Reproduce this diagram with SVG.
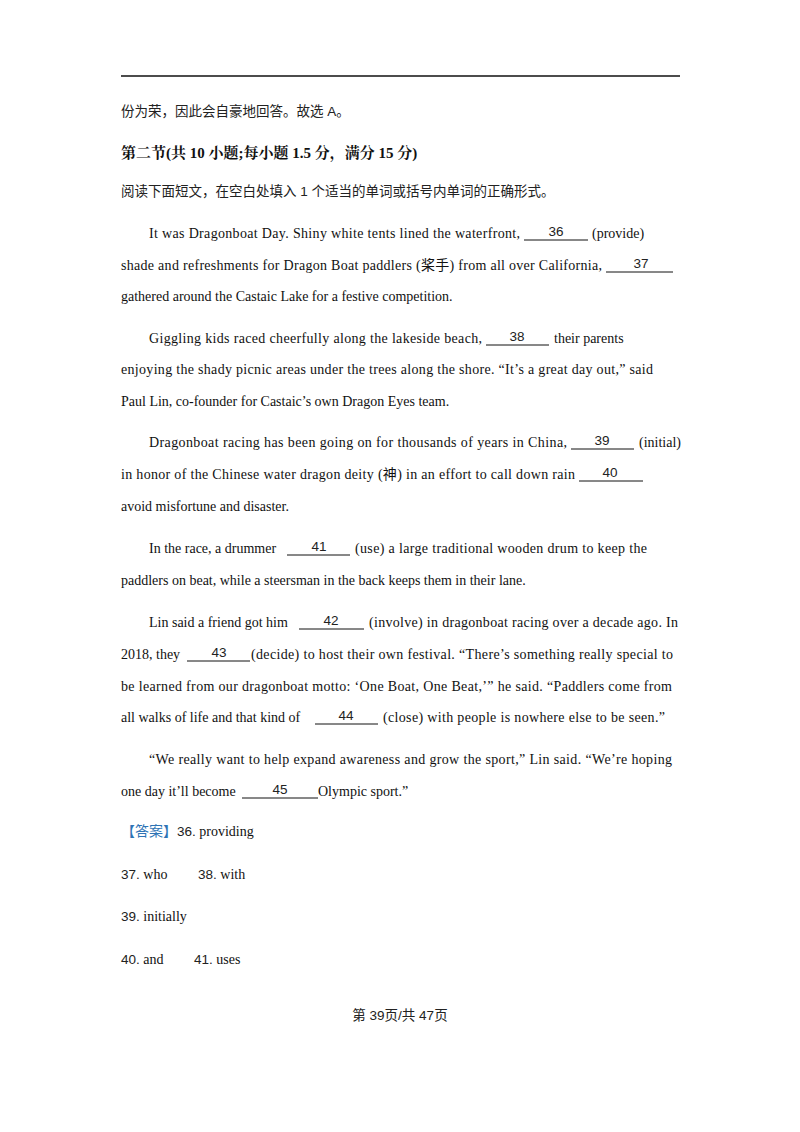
<svg xmlns="http://www.w3.org/2000/svg" width="800" height="1132" viewBox="0 0 800 1132">
<style>
.s{font-family:"Liberation Serif",serif;font-size:14px;fill:#111}
.n{font-family:"Liberation Sans",sans-serif;font-size:13.5px;fill:#222}
.c{font-family:"Liberation Sans","Noto Sans CJK SC",sans-serif;font-size:13.5px;fill:#222}
.b{font-family:"Liberation Serif","Noto Serif CJK SC","Noto Sans CJK SC",serif;font-size:15px;font-weight:bold;fill:#111}
.u{stroke:#111;stroke-width:1}
</style>
<rect width="800" height="1132" fill="#fff"/>
<line x1="121" y1="76" x2="680" y2="76" stroke="#111" stroke-width="1.5"/>
<text class="c" x="121" y="116">份为荣，因此会自豪地回答。故选 A。</text>
<text class="b" x="121" y="158">第二节(共 10 小题;每小题 1.5 分，满分 15 分)</text>
<text class="c" x="121" y="196">阅读下面短文，在空白处填入 1 个适当的单词或括号内单词的正确形式。</text>
<g class="s">
<text x="149" y="238" textLength="371" lengthAdjust="spacing">It was Dragonboat Day. Shiny white tents lined the waterfront,</text>
<text x="592" y="238">(provide)</text>
<text x="121" y="270" textLength="481" lengthAdjust="spacing">shade and refreshments for Dragon Boat paddlers (<tspan font-family="Noto Sans CJK SC">桨手</tspan>) from all over California,</text>
<text x="121" y="301">gathered around the Castaic Lake for a festive competition.</text>
<text x="149" y="343" textLength="333" lengthAdjust="spacing">Giggling kids raced cheerfully along the lakeside beach,</text>
<text x="554" y="343">their parents</text>
<text x="121" y="374" textLength="532" lengthAdjust="spacing">enjoying the shady picnic areas under the trees along the shore. “It’s a great day out,” said</text>
<text x="121" y="406">Paul Lin, co-founder for Castaic’s own Dragon Eyes team.</text>
<text x="149" y="447" textLength="418" lengthAdjust="spacing">Dragonboat racing has been going on for thousands of years in China,</text>
<text x="639" y="447">(initial)</text>
<text x="121" y="479" textLength="454" lengthAdjust="spacing">in honor of the Chinese water dragon deity (<tspan font-family="Noto Sans CJK SC">神</tspan>) in an effort to call down rain</text>
<text x="121" y="511">avoid misfortune and disaster.</text>
<text x="149" y="553">In the race, a drummer</text>
<text x="355" y="553" textLength="292" lengthAdjust="spacing">(use) a large traditional wooden drum to keep the</text>
<text x="121" y="585">paddlers on beat, while a steersman in the back keeps them in their lane.</text>
<text x="149" y="627">Lin said a friend got him</text>
<text x="369" y="627" textLength="309" lengthAdjust="spacing">(involve) in dragonboat racing over a decade ago. In</text>
<text x="121" y="659">2018, they</text>
<text x="251" y="659" textLength="422" lengthAdjust="spacing">(decide) to host their own festival. “There’s something really special to</text>
<text x="121" y="691" textLength="551" lengthAdjust="spacing">be learned from our dragonboat motto: ‘One Boat, One Beat,’” he said. “Paddlers come from</text>
<text x="121" y="722">all walks of life and that kind of</text>
<text x="383" y="722" textLength="282" lengthAdjust="spacing">(close) with people is nowhere else to be seen.”</text>
<text x="149" y="764" textLength="523" lengthAdjust="spacing">“We really want to help expand awareness and grow the sport,” Lin said. “We’re hoping</text>
<text x="121" y="796">one day it’ll become</text>
<text x="318" y="796">Olympic sport.”</text>
</g>
<g class="n" text-anchor="middle">
<text x="556" y="236">36</text><text x="641" y="268">37</text><text x="517" y="341">38</text>
<text x="602" y="445">39</text><text x="610" y="477">40</text><text x="319" y="551">41</text>
<text x="331" y="625">42</text><text x="219" y="657">43</text><text x="346" y="720">44</text>
<text x="280" y="794">45</text>
</g>
<g class="u">
<line x1="524" y1="240" x2="588" y2="240"/><line x1="606" y1="272" x2="673" y2="272"/>
<line x1="486" y1="345" x2="549" y2="345"/><line x1="571" y1="449" x2="634" y2="449"/>
<line x1="579" y1="481" x2="643" y2="481"/><line x1="287" y1="555" x2="350" y2="555"/>
<line x1="299" y1="629" x2="364" y2="629"/><line x1="187" y1="661" x2="250" y2="661"/>
<line x1="315" y1="724" x2="378" y2="724"/><line x1="242" y1="798" x2="318" y2="798"/>
</g>
<text x="121" y="836" class="s"><tspan font-family="Liberation Sans,Noto Sans CJK SC,sans-serif" fill="#2e74b5">【答案】</tspan><tspan class="n">36.</tspan> providing</text>
<text x="121" y="879" class="s"><tspan class="n">37.</tspan> who</text>
<text x="198" y="879" class="s"><tspan class="n">38.</tspan> with</text>
<text x="121" y="921" class="s"><tspan class="n">39.</tspan> initially</text>
<text x="121" y="964" class="s"><tspan class="n">40.</tspan> and</text>
<text x="194" y="964" class="s"><tspan class="n">41.</tspan> uses</text>
<text x="400" y="1020" class="c" text-anchor="middle">第 39页/共 47页</text>
</svg>
